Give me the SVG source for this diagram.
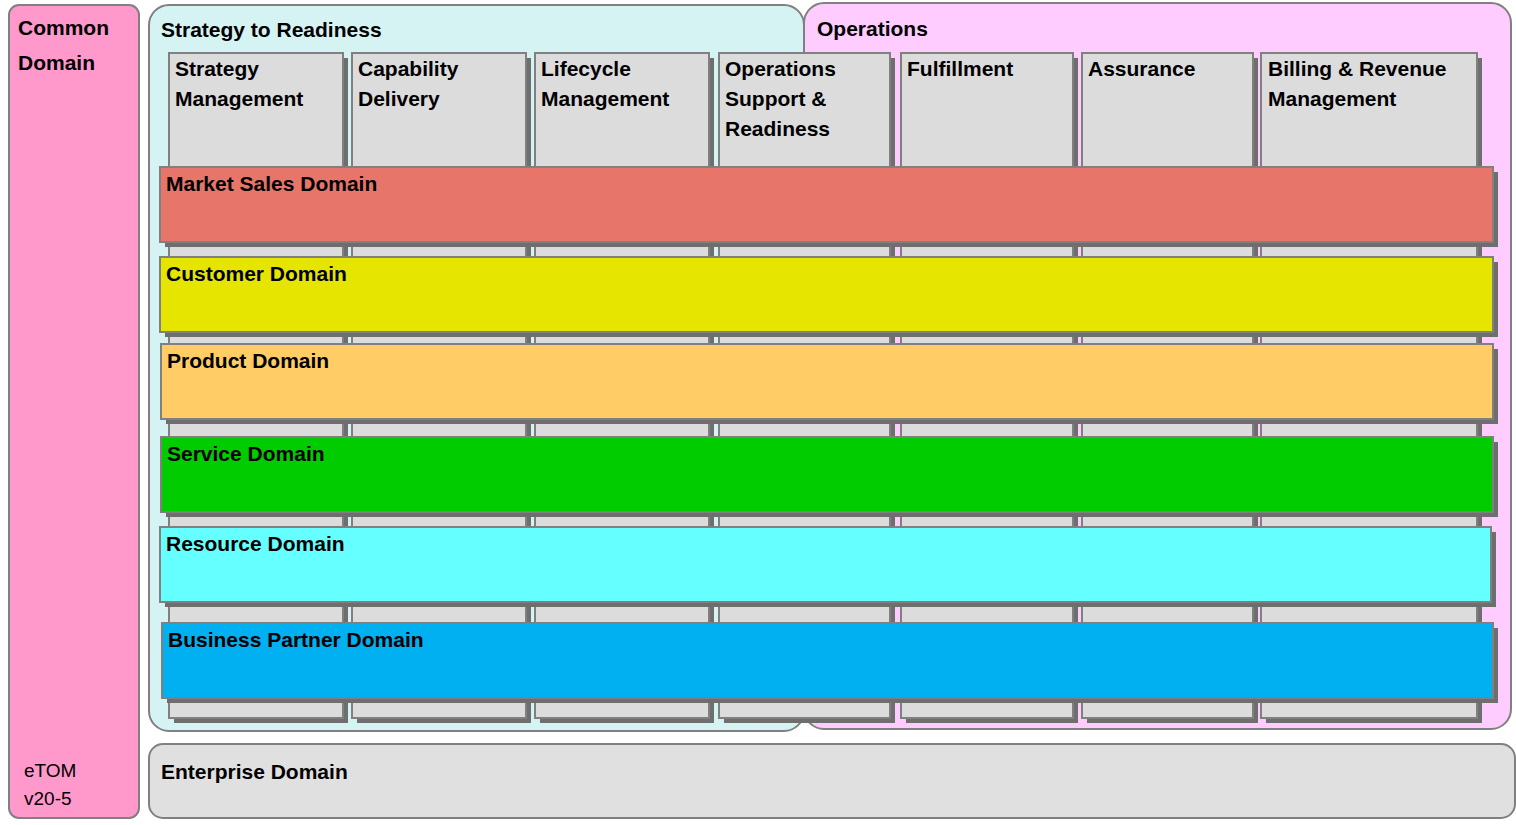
<svg xmlns="http://www.w3.org/2000/svg" width="1516" height="825" viewBox="0 0 1516 825">
<style>
text{font-family:"Liberation Sans",Arial,sans-serif;font-weight:bold;font-size:21px;fill:#000}
.c{stroke:#808080;stroke-width:2}
.col{fill:#dcdcdc;stroke:#808080;stroke-width:2}
.sh{fill:#6e6e6e}
.band{stroke:#808080;stroke-width:2}
</style>
<rect width="1516" height="825" fill="#fff"/>
<g id="common"><rect class="c" x="9" y="5" width="130" height="813" rx="10" fill="#ff99cc"/>
<text x="18" y="35" font-size="23">Common</text><text x="18" y="70" font-size="23">Domain</text>
<text x="24" y="777" style="font-weight:normal;font-size:19px">eTOM</text><text x="24" y="805" style="font-weight:normal;font-size:19px">v20-5</text></g>
<g id="enterprise"><rect class="c" x="149" y="744" width="1366" height="74" rx="14" fill="#e0e0e0"/><text x="161" y="779" font-size="27">Enterprise Domain</text></g>
<g id="s2r"><rect class="c" x="149" y="5" width="655" height="726" rx="20" fill="#d5f3f3"/><text x="161" y="37" font-size="23">Strategy to Readiness</text></g>
<g id="ops"><rect class="c" x="804" y="3" width="707" height="726" rx="20" fill="#ffccff"/><text x="817" y="36" font-size="23">Operations</text></g>
<g id="columns">
<rect class="sh" x="174" y="58" width="174" height="665"/><rect class="col" x="169" y="53" width="174" height="665"/>
<rect class="sh" x="357" y="58" width="174" height="665"/><rect class="col" x="352" y="53" width="174" height="665"/>
<rect class="sh" x="540" y="58" width="174" height="665"/><rect class="col" x="535" y="53" width="174" height="665"/>
<rect class="sh" x="724" y="58" width="171" height="665"/><rect class="col" x="719" y="53" width="171" height="665"/>
<rect class="sh" x="906" y="58" width="172" height="665"/><rect class="col" x="901" y="53" width="172" height="665"/>
<rect class="sh" x="1087" y="58" width="171" height="665"/><rect class="col" x="1082" y="53" width="171" height="665"/>
<rect class="sh" x="1266" y="58" width="216" height="665"/><rect class="col" x="1261" y="53" width="216" height="665"/>
<text x="175" y="76">Strategy</text><text x="175" y="106">Management</text>
<text x="358" y="76">Capability</text><text x="358" y="106">Delivery</text>
<text x="541" y="76">Lifecycle</text><text x="541" y="106">Management</text>
<text x="725" y="76">Operations</text><text x="725" y="106">Support &amp;</text><text x="725" y="136">Readiness</text>
<text x="907" y="76">Fulfillment</text>
<text x="1088" y="76">Assurance</text>
<text x="1268" y="76">Billing &amp; Revenue</text><text x="1268" y="106">Management</text>
</g>
<g id="market"><rect class="sh" x="165" y="172" width="1333" height="75"/><rect class="band" x="160" y="167" width="1333" height="75" fill="#e8756a"/><text x="166" y="191">Market Sales Domain</text></g>
<g id="customer"><rect class="sh" x="165" y="262" width="1333" height="75"/><rect class="band" x="160" y="257" width="1333" height="75" fill="#e5e500"/><text x="166" y="281">Customer Domain</text></g>
<g id="product"><rect class="sh" x="166" y="349" width="1332" height="75"/><rect class="band" x="161" y="344" width="1332" height="75" fill="#ffcc66"/><text x="167" y="368">Product Domain</text></g>
<g id="service"><rect class="sh" x="166" y="442" width="1332" height="75"/><rect class="band" x="161" y="437" width="1332" height="75" fill="#00cc00"/><text x="167" y="461">Service Domain</text></g>
<g id="resource"><rect class="sh" x="165" y="532" width="1331" height="75"/><rect class="band" x="160" y="527" width="1331" height="75" fill="#66ffff"/><text x="166" y="551">Resource Domain</text></g>
<g id="partner"><rect class="sh" x="167" y="628" width="1331" height="75"/><rect class="band" x="162" y="623" width="1331" height="75" fill="#00b0f0"/><text x="168" y="647">Business Partner Domain</text></g>
<g id="connectors"/>
</svg>
